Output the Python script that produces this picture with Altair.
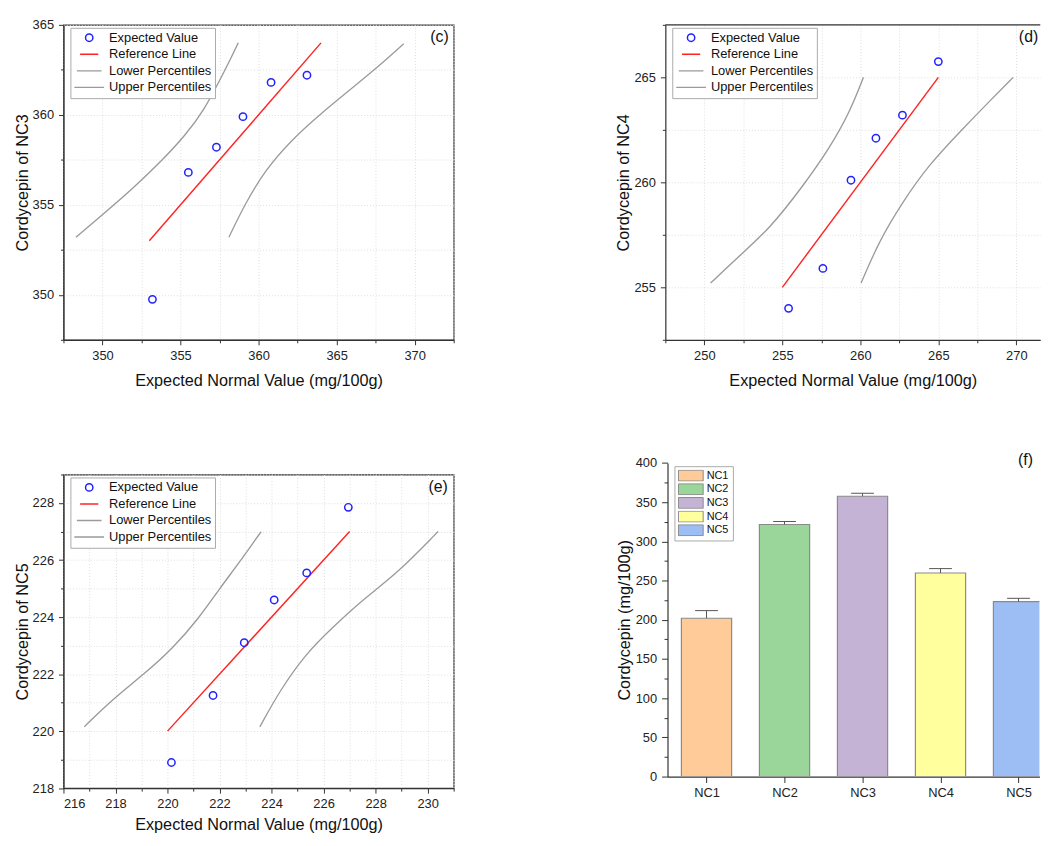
import altair as alt
import pandas as pd

FONT = "Liberation Sans"
SERIES = ["Expected Value", "Reference Line", "Lower Percentiles", "Upper Percentiles"]

# ---------------- NC3 (c) ----------------
nc3_exp_x = [353.2, 355.5, 357.3, 359.0, 360.8, 363.1]
nc3_obs_y = [349.75, 356.8, 358.2, 359.9, 361.8, 362.2]
nc3_ref_x = [353.0, 364.0]
nc3_ref_y = [353.0, 364.0]
nc3_low_x = [348.3, 350.0, 352.0, 353.8, 355.3, 356.5, 357.5, 358.2, 358.7]
nc3_low_y = [353.2, 354.45, 355.95, 357.45, 358.85, 360.25, 361.9, 363.1, 364.0]
nc3_up_x = [358.1, 359.1, 360.4, 362.1, 363.9, 365.8, 367.7, 369.3]
nc3_up_y = [353.2, 355.0, 356.9, 358.6, 360.0, 361.35, 362.7, 363.95]

# ---------------- NC4 (d) ----------------
nc4_exp_x = [255.4, 257.6, 259.4, 261.0, 262.7, 265.0]
nc4_obs_y = [254.0, 255.9, 260.1, 262.1, 263.2, 265.75]
nc4_ref_x = [255.0, 265.0]
nc4_ref_y = [255.0, 265.0]
nc4_low_x = [250.4, 252.1, 254.2, 256.3, 258.0, 259.3, 260.2]
nc4_low_y = [255.2, 256.4, 257.8, 259.8, 261.6, 263.3, 265.0]
nc4_up_x = [260.05, 261.2, 262.7, 264.35, 266.5, 268.2, 269.8]
nc4_up_y = [255.2, 257.2, 259.05, 260.8, 262.5, 263.8, 265.0]

# ---------------- NC5 (e) ----------------
nc5_exp_x = [220.15, 221.75, 222.95, 224.1, 225.35, 226.95]
nc5_obs_y = [218.9, 221.25, 223.1, 224.6, 225.55, 227.85]
nc5_ref_x = [220.0, 227.0]
nc5_ref_y = [220.0, 227.0]
nc5_low_x = [216.8, 217.8, 219.1, 220.2, 221.2, 222.0, 222.75, 223.6]
nc5_low_y = [220.15, 221.05, 222.0, 222.9, 223.95, 225.0, 225.9, 227.0]
nc5_up_x = [223.55, 224.3, 225.3, 226.3, 227.55, 228.85, 230.4]
nc5_up_y = [220.15, 221.4, 222.7, 223.6, 224.65, 225.55, 227.0]

# ---------------- Bars (f) ----------------
bar_names = ["NC1", "NC2", "NC3", "NC4", "NC5"]
bar_values = [202.0, 321.6, 357.6, 259.7, 223.1]
bar_errors = [9.7, 3.8, 3.8, 5.6, 4.3]
bar_colors = ["#FFCC99", "#9AD69A", "#C5B3D6", "#FFFF9E", "#9DBDF5"]

TITLE_FS = 16.4
LABEL_FS = 13
AXIS_COLOR = "#333333"


def qq_axis(title, values, major, is_x, title_pad):
    return alt.Axis(
        title=title,
        values=values,
        labelExpr=f"datum.value % {major} === 0 ? datum.label : ''",
        labelOverlap=False,
        tickSize={"condition": {"test": f"datum.value % {major} !== 0", "value": 3}, "value": 5},
        grid=True,
        gridColor="#dedede",
        gridDash=[1, 2],
        gridWidth=1,
        domainColor=AXIS_COLOR,
        domainWidth=1.2,
        tickColor=AXIS_COLOR,
        tickWidth=1,
        labelFontSize=LABEL_FS,
        labelColor="#222222",
        labelPadding=4.5 if is_x else 5,
        titleFontSize=TITLE_FS,
        titleFontWeight="normal",
        titleColor="#111111",
        titlePadding=title_pad,
    )


def qq_panel(px, py, rx, ry, lx, ly, ux, uy, xdom, ydom, xvals, yvals, major, tag,
             ytitle, width, height, tag_dx, tag_dy, framed, xtitle_pad):
    pts = pd.DataFrame({"x": px, "y": py, "series": "Expected Value"})
    lines = pd.concat([
        pd.DataFrame({"x": rx, "y": ry, "series": "Reference Line", "o": list(range(len(rx)))}),
        pd.DataFrame({"x": lx, "y": ly, "series": "Lower Percentiles", "o": list(range(len(lx)))}),
        pd.DataFrame({"x": ux, "y": uy, "series": "Upper Percentiles", "o": list(range(len(ux)))}),
    ])
    xs = alt.Scale(domain=xdom, nice=False, zero=False)
    ys = alt.Scale(domain=ydom, nice=False, zero=False)
    xa = qq_axis("Expected Normal Value (mg/100g)", xvals, major, True, xtitle_pad)
    ya = qq_axis(ytitle, yvals, major, False, 2)
    stroke_scale = alt.Scale(domain=SERIES, range=["#2222ff", "#ff2222", "#9a9a9a", "#9a9a9a"])
    leg = alt.Legend(
        title=None, orient="none", legendX=7, legendY=3,
        strokeColor="#aaaaaa", fillColor="white", padding=3,
        labelFont=FONT, labelFontSize=13, labelColor="#111111",
        labelOffset=4, clipHeight=14, rowPadding=2.7,
        symbolStrokeWidth=1.3,
    )
    line_layer = alt.Chart(lines).mark_line(interpolate="basis").encode(
        x=alt.X("x:Q", scale=xs, axis=xa),
        y=alt.Y("y:Q", scale=ys, axis=ya),
        stroke=alt.Stroke("series:N", scale=stroke_scale, legend=leg),
        strokeWidth=alt.StrokeWidth("series:N", scale=alt.Scale(domain=SERIES, range=[1.5, 1.3, 0.8, 0.8]), legend=None),
        order="o:Q",
    )
    pt_layer = alt.Chart(pts).mark_point(filled=False, strokeWidth=1.5, opacity=1).encode(
        x=alt.X("x:Q", scale=xs, axis=xa),
        y=alt.Y("y:Q", scale=ys, axis=ya),
        stroke=alt.Stroke("series:N", scale=stroke_scale, legend=leg),
        shape=alt.Shape("series:N", scale=alt.Scale(domain=SERIES, range=["circle", "stroke", "stroke", "stroke"]), legend=leg),
        size=alt.Size("series:N", scale=alt.Scale(domain=SERIES, range=[55, 900, 900, 900]), legend=leg),
    )
    tag_layer = alt.Chart(pd.DataFrame({"t": [tag]})).mark_text(
        font=FONT, fontSize=16, align="right", baseline="middle", dx=tag_dx, dy=tag_dy,
        color="#111111",
    ).encode(
        x=alt.XDatum(xdom[1], scale=xs, axis=xa),
        y=alt.YDatum(ydom[1], scale=ys, axis=ya),
        text="t:N",
    )
    layers = [line_layer, pt_layer, tag_layer]
    if framed:
        view = alt.ViewBackground(stroke=AXIS_COLOR, strokeWidth=1.2)
    else:
        view = alt.ViewBackground(stroke=None)
        top_rule = alt.Chart(pd.DataFrame({"k": [0]})).mark_rule(color=AXIS_COLOR, strokeWidth=1.2).encode(
            x=alt.XDatum(xdom[0], scale=xs, axis=xa),
            x2=alt.datum(xdom[1]),
            y=alt.YDatum(ydom[1], scale=ys, axis=ya),
        )
        layers.append(top_rule)
    return alt.layer(*layers).properties(width=width, height=height, view=view)


def vals(lo, hi, step):
    out = []
    v = lo
    while v <= hi + 1e-9:
        out.append(round(v, 4))
        v += step
    return out


c = qq_panel(nc3_exp_x, nc3_obs_y, nc3_ref_x, nc3_ref_y, nc3_low_x, nc3_low_y, nc3_up_x, nc3_up_y,
             [347.5, 372.5], [347.5, 365.0], vals(347.5, 372.5, 2.5), vals(347.5, 365, 2.5), 5,
             "(c)", "Cordycepin of NC3", 394, 318, -5, 12, True, 10.5)
d = qq_panel(nc4_exp_x, nc4_obs_y, nc4_ref_x, nc4_ref_y, nc4_low_x, nc4_low_y, nc4_up_x, nc4_up_y,
             [247.5, 271.53], [252.5, 267.5], vals(247.5, 270, 2.5), vals(252.5, 267.5, 2.5), 5,
             "(d)", "Cordycepin of NC4", 378.5, 318, -2, 12, False, 10.5)
e = qq_panel(nc5_exp_x, nc5_obs_y, nc5_ref_x, nc5_ref_y, nc5_low_x, nc5_low_y, nc5_up_x, nc5_up_y,
             [216, 231], [218, 229], vals(216, 231, 1), vals(218, 229, 1), 2,
             "(e)", "Cordycepin of NC5", 394, 316.7, -6, 13, True, 6.5)

# ---------------- bar panel ----------------
bars_df = pd.DataFrame({
    "idx": list(range(len(bar_names))),
    "name": bar_names,
    "value": bar_values,
    "top": [v + er for v, er in zip(bar_values, bar_errors)],
})
HALF_BAR = 0.322   # half bar width, in category steps
HALF_CAP = 0.146   # half error-cap width, in category steps
names_js = "[" + ",".join(f"'{n}'" for n in bar_names) + "]"

bx = alt.Scale(domain=[-0.5, 4.268], nice=False, zero=False)
by = alt.Scale(domain=[0, 400], nice=False, range=[305, -11.6])
b_xaxis = alt.Axis(title=None, values=list(range(len(bar_names))), labelExpr=f"{names_js}[datum.value]",
                   labelOverlap=False, domainColor=AXIS_COLOR, domainWidth=1.2, tickColor=AXIS_COLOR,
                   tickSize=6, labelFontSize=13, labelColor="#222222", labelPadding=4, grid=False)
b_yaxis = alt.Axis(
    title="Cordycepin (mg/100g)", values=vals(0, 400, 25),
    labelExpr="datum.value % 50 === 0 ? datum.label : ''", labelOverlap=False,
    tickSize={"condition": {"test": "datum.value % 50 !== 0", "value": 3.5}, "value": 6},
    domainColor=AXIS_COLOR, domainWidth=1.2, tickColor=AXIS_COLOR, grid=False,
    labelFontSize=13, labelColor="#222222", labelPadding=5,
    titleFontSize=16.4, titleFontWeight="normal", titleColor="#111111", titlePadding=3,
)
bar_leg = alt.Legend(
    title=None, orient="none", legendX=7, legendY=-8.4,
    strokeColor="#aaaaaa", fillColor="white", padding=3.5,
    labelFont=FONT, labelFontSize=11, labelColor="#111111", labelOffset=3,
    symbolType="M-1,-0.44H1V0.44H-1Z", symbolSize=625, symbolStrokeColor="#888888",
    symbolStrokeWidth=1, clipHeight=12, rowPadding=1.8, symbolOpacity=1,
)
base = alt.Chart(bars_df).transform_calculate(
    x0=f"datum.idx - {HALF_BAR}", x1=f"datum.idx + {HALF_BAR}",
    c0=f"datum.idx - {HALF_CAP}", c1=f"datum.idx + {HALF_CAP}",
)
bar_layer = base.mark_bar(stroke="#8a8a8a", strokeWidth=1.2, opacity=1, clip=True).encode(
    x=alt.X("x0:Q", scale=bx, axis=b_xaxis),
    x2="x1:Q",
    y=alt.Y("value:Q", scale=by, axis=b_yaxis),
    y2=alt.datum(0),
    fill=alt.Fill("name:N", scale=alt.Scale(domain=bar_names, range=bar_colors), legend=bar_leg),
)
err_rule = base.mark_rule(color="#555555", strokeWidth=1).encode(
    x=alt.X("idx:Q", scale=bx, axis=b_xaxis),
    y=alt.Y("value:Q", scale=by, axis=b_yaxis),
    y2="top:Q",
)
err_cap = base.mark_rule(color="#555555", strokeWidth=1).encode(
    x=alt.X("c0:Q", scale=bx, axis=b_xaxis),
    x2="c1:Q",
    y=alt.Y("top:Q", scale=by, axis=b_yaxis),
)
f_tag = alt.Chart(pd.DataFrame({"t": ["(f)"]})).mark_text(
    font=FONT, fontSize=16, align="center", baseline="middle", dx=7, dy=-2.5, color="#111111"
).encode(
    x=alt.XDatum(4, scale=bx, axis=b_xaxis),
    y=alt.YDatum(400, scale=by, axis=b_yaxis),
    text="t:N",
)
f = alt.layer(bar_layer, err_rule, err_cap, f_tag).properties(
    width=375.5, height=305, view=alt.ViewBackground(stroke=None)
)

IND = dict(stroke="independent", shape="independent", size="independent",
           strokeWidth="independent", fill="independent")

row1 = alt.hconcat(c, d, spacing=161.7).resolve_scale(x="independent", y="independent", **IND).resolve_legend(**IND)
row2 = alt.hconcat(e, f, spacing=161.9).resolve_scale(x="independent", y="independent", **IND).resolve_legend(**IND)
chart = alt.vconcat(row1, row2, spacing=63).resolve_scale(
    x="independent", y="independent", **IND
).resolve_legend(**IND).properties(
    padding={"left": 5, "top": 6, "right": 0, "bottom": 0}
).configure(
    font=FONT,
).configure_axis(
    labelFont=FONT, titleFont=FONT, labelOverlap=False,
).configure_text(font=FONT)

chart.save("out.html", embed_options={"renderer": "svg", "actions": False})
